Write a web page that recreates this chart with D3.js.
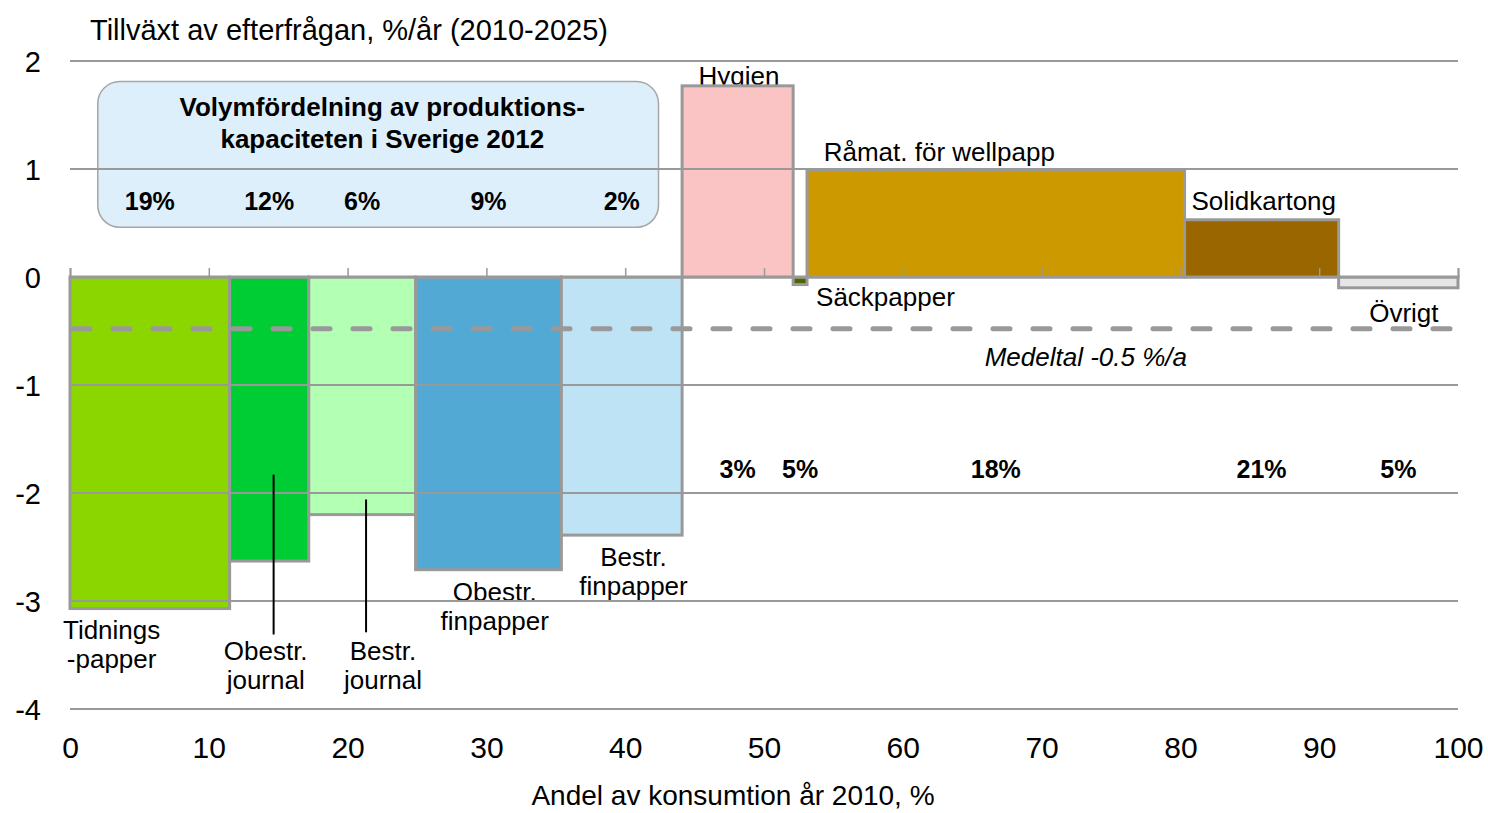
<!DOCTYPE html>
<html>
<head>
<meta charset="utf-8">
<script src="https://cdn.jsdelivr.net/npm/d3@7"></script>
<style>
  body { margin: 0; background: #fff; }
  svg { display: block; font-family: "Liberation Sans", Arial, sans-serif; }
</style>
</head>
<body>
<div id="chart"></div>
<script>
// ### data
var categories = ["Tidningspapper", "Obestr. journal", "Bestr. journal", "Obestr. finpapper", "Bestr. finpapper",
                  "Hygien", "Säckpapper", "Råmat. för wellpapp", "Solidkartong", "Övrigt"];
// share of consumption 2010, % (bar widths)
var shares = [11.5, 5.7, 7.7, 10.5, 8.7, 8.0, 1.0, 27.2, 11.1, 8.6];
// demand growth, %/year 2010-2025 (bar heights)
var growth = [-3.07, -2.63, -2.2, -2.71, -2.39, 1.77, -0.07, 0.99, 0.53, -0.1];
// share of Swedish production capacity 2012, %
var capacity = [19, 12, 6, 9, 2, 3, 5, 18, 21, 5];
var colors = ["#8cd600", "#00cc33", "#b3ffb3", "#52aad4", "#bde3f5",
              "#fbc4c4", "#4d6600", "#cc9900", "#996600", "#e6e6e6"];
var average = -0.48;
var xTicks = [0, 10, 20, 30, 40, 50, 60, 70, 80, 90, 100];
var yTicks = [2, 1, 0, -1, -2, -3, -4];

// ### layout
var width = 1488, height = 813;
var x = d3.scaleLinear().domain([0, 100]).range([70, 1458]);
var y = d3.scaleLinear().domain([-4, 2]).range([709, 61]);
var grey = "#999999";
var labelSize = 26;

var svg = d3.select("#chart").append("svg")
  .attr("width", width)
  .attr("height", height);

// cumulative starts for the variable width bars
var bars = [];
var acc = 0;
categories.forEach(function(c, i){
  bars.push({name: c, x0: acc, x1: acc + shares[i], v: growth[i], color: colors[i], cap: capacity[i]});
  acc += shares[i];
});

// category labels (drawn under the bars, as in the original)
var labels = [
  {lines: ["Tidnings", "-papper"], x: 3.0, y: -3.35, anchor: "middle"},
  {lines: ["Obestr.", "journal"], x: 14.1, y: -3.55, anchor: "middle"},
  {lines: ["Bestr.", "journal"], x: 22.55, y: -3.55, anchor: "middle"},
  {lines: ["Obestr.", "finpapper"], x: 30.6, y: -3.0, anchor: "middle"},
  {lines: ["Bestr.", "finpapper"], x: 40.6, y: -2.68, anchor: "middle"},
  {lines: ["Hygien"], x: 48.2, y: 1.78, anchor: "middle"},
  {lines: ["Säckpapper"], x: 53.75, y: -0.27, anchor: "start"},
  {lines: ["Råmat. för wellpapp"], x: 54.3, y: 1.07, anchor: "start"},
  {lines: ["Solidkartong"], x: 80.8, y: 0.62, anchor: "start"},
  {lines: ["Övrigt"], x: 93.6, y: -0.42, anchor: "start"}
];
var labelLayer = svg.append("g");
labels.forEach(function(l){
  var t = labelLayer.append("text")
    .attr("x", x(l.x))
    .attr("y", y(l.y))
    .attr("text-anchor", l.anchor)
    .attr("font-size", labelSize)
    .attr("fill", "#000");
  l.lines.forEach(function(s, i){
    t.append("tspan").attr("x", x(l.x)).attr("dy", i === 0 ? 0 : 29).text(s);
  });
});

// capacity box
var box = svg.append("g");
box.append("rect")
  .attr("x", x(2.0)).attr("y", y(1.81))
  .attr("width", x(42.4) - x(2.0)).attr("height", y(0.46) - y(1.81))
  .attr("rx", 22).attr("ry", 22)
  .attr("fill", "#ddeffa").attr("stroke", "#a6a6a6").attr("stroke-width", 1.5);
box.append("text")
  .attr("x", x(22.5)).attr("y", y(1.81) + 34)
  .attr("text-anchor", "middle").attr("font-size", 26).attr("font-weight", "bold")
  .text("Volymfördelning av produktions-");
box.append("text")
  .attr("x", x(22.5)).attr("y", y(1.81) + 66)
  .attr("text-anchor", "middle").attr("font-size", 26).attr("font-weight", "bold")
  .text("kapaciteten i Sverige 2012");

// bars
svg.append("g").selectAll("rect")
  .data(bars).enter().append("rect")
  .attr("x", function(d){ return x(d.x0); })
  .attr("width", function(d){ return x(d.x1) - x(d.x0); })
  .attr("y", function(d){ return y(Math.max(0, d.v)); })
  .attr("height", function(d){ return Math.abs(y(d.v) - y(0)); })
  .attr("fill", function(d){ return d.color; })
  .attr("stroke", grey)
  .attr("stroke-width", 3);

// capacity percentages, above (in the box) for the first five, below for the rest
svg.append("g").selectAll("text")
  .data(bars).enter().append("text")
  .attr("x", function(d){ return x((d.x0 + d.x1) / 2); })
  .attr("y", function(d, i){ return i < 5 ? y(0.62) : y(-1.86); })
  .attr("text-anchor", "middle")
  .attr("font-size", 25).attr("font-weight", "bold")
  .text(function(d){ return d.cap + "%"; });

// gridlines on top of the bars
svg.append("g").selectAll("line")
  .data(yTicks.filter(function(t){ return t !== 0; })).enter().append("line")
  .attr("x1", x(0)).attr("x2", x(100))
  .attr("y1", function(d){ return y(d); }).attr("y2", function(d){ return y(d); })
  .attr("stroke", grey).attr("stroke-width", 2);

// zero axis with small upward ticks
var xAxis = svg.append("g").attr("transform", "translate(0," + y(0) + ")")
  .call(d3.axisTop(x).tickValues(xTicks).tickSize(9).tickFormat(""));
xAxis.select(".domain").attr("stroke", grey).attr("stroke-width", 2);
xAxis.selectAll(".tick line").attr("stroke", grey).attr("stroke-width", 1.5);

// tick labels
var xLab = svg.append("g").attr("transform", "translate(0," + (y(-4) + 49) + ")")
  .call(d3.axisBottom(x).tickValues(xTicks).tickSize(0).tickPadding(0).tickFormat(function(d){ return String(d); }));
xLab.select(".domain").remove();
xLab.selectAll("text").attr("font-size", 30).attr("fill", "#000")
  .attr("font-family", "Liberation Sans, Arial, sans-serif").attr("dy", 0);

var yLab = svg.append("g").attr("transform", "translate(41,0)")
  .call(d3.axisLeft(y).tickValues(yTicks).tickSize(0).tickPadding(0).tickFormat(function(d){ return String(d); }));
yLab.select(".domain").remove();
yLab.selectAll("text").attr("font-size", 29).attr("fill", "#000")
  .attr("font-family", "Liberation Sans, Arial, sans-serif").attr("dy", "0.36em");

// average line
svg.append("line")
  .attr("x1", x(0) + 3).attr("x2", x(100))
  .attr("y1", y(average)).attr("y2", y(average))
  .attr("stroke", grey).attr("stroke-width", 5)
  .attr("stroke-dasharray", "17,23").attr("stroke-linecap", "round");
svg.append("text")
  .attr("x", x(65.9)).attr("y", y(-0.82))
  .attr("font-size", labelSize).attr("font-style", "italic")
  .text("Medeltal -0.5 %/a");

// callout lines for the journal labels
var callouts = [{x: 14.67, y1: -1.83, y2: -3.31}, {x: 21.33, y1: -2.06, y2: -3.29}];
svg.append("g").selectAll("line")
  .data(callouts).enter().append("line")
  .attr("x1", function(d){ return x(d.x); }).attr("x2", function(d){ return x(d.x); })
  .attr("y1", function(d){ return y(d.y1); }).attr("y2", function(d){ return y(d.y2); })
  .attr("stroke", "#000").attr("stroke-width", 2);

// axis titles
svg.append("text")
  .attr("x", 90).attr("y", 40)
  .attr("font-size", 29)
  .text("Tillväxt av efterfrågan, %/år (2010-2025)");
svg.append("text")
  .attr("x", 733).attr("y", 805)
  .attr("text-anchor", "middle")
  .attr("font-size", 28)
  .text("Andel av konsumtion år 2010, %");
</script>
</body>
</html>
